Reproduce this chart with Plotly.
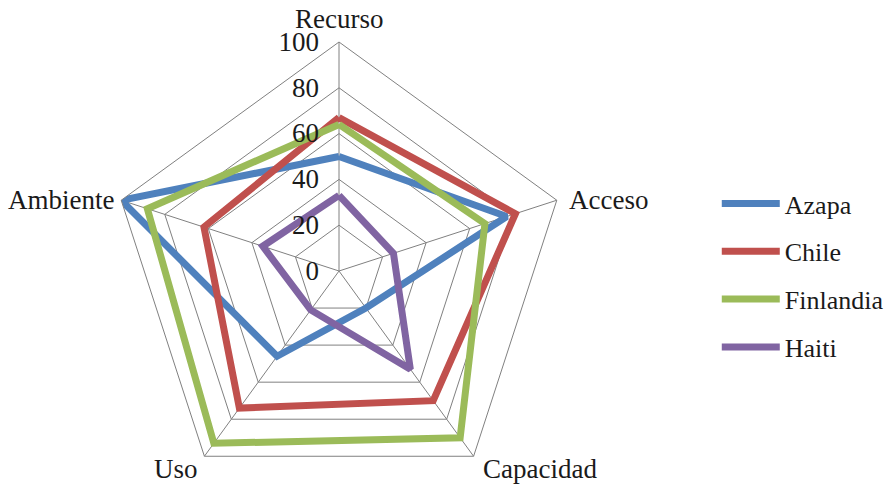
import math
import plotly.graph_objects as go

# Radar categories (clockwise from the top) and scores per region
categories = ["Recurso", "Acceso", "Capacidad", "Uso", "Ambiente"]
series_names = ["Azapa", "Chile", "Finlandia", "Haiti"]
azapa = [50, 77, 20, 46, 100]
chile = [67, 81, 70, 74, 62]
finlandia = [64, 67, 90, 93, 88]
haiti = [33, 25, 53, 21, 35]
radial_ticks = [0, 20, 40, 60, 80, 100]

series_values = [azapa, chile, finlandia, haiti]
colors = ["#4F81BD", "#C0504D", "#9BBB59", "#8064A2"]

W, H = 886, 520
cx, cy, R = 339, 271, 229   # web centre and outer radius in px (cy from top)

FONT = "Liberation Serif"
TXT = "#1a1a1a"
GRID = "#808080"

fig = go.Figure()
for name, vals, col in zip(series_names, series_values, colors):
    fig.add_trace(go.Scatterpolar(
        r=vals + vals[:1],
        theta=categories + categories[:1],
        mode="lines",
        name=name,
        legendgroup=name,
        line=dict(color=col, width=7),
    ))

# Category captions set just outside each outer vertex
label_style = {
    "Recurso":   dict(xanchor="center", yanchor="bottom", dx=0, dy=-6),
    "Acceso":    dict(xanchor="left", yanchor="middle", dx=10, dy=0),
    "Capacidad": dict(xanchor="left", yanchor="middle", dx=7, dy=13),
    "Uso":       dict(xanchor="right", yanchor="middle", dx=-4, dy=13),
    "Ambiente":  dict(xanchor="right", yanchor="middle", dx=-5, dy=0),
}
annotations = []
for i, cat in enumerate(categories):
    ang = math.radians(90 - 72 * i)
    vx = cx + R * math.cos(ang)
    vy = cy - R * math.sin(ang)
    st = label_style[cat]
    annotations.append(dict(
        text=cat, showarrow=False, xref="paper", yref="paper",
        x=(vx + st["dx"]) / W, y=(H - (vy + st["dy"])) / H,
        xanchor=st["xanchor"], yanchor=st["yanchor"],
        font=dict(family=FONT, size=27, color=TXT),
    ))

fig.update_layout(
    width=W, height=H,
    margin=dict(l=0, r=0, t=0, b=0, autoexpand=False),
    paper_bgcolor="white",
    plot_bgcolor="white",
    font=dict(family=FONT, size=27, color=TXT),
    annotations=annotations,
    polar=dict(
        domain=dict(x=[(cx - R) / W, (cx + R) / W],
                    y=[(H - cy - R) / H, (H - cy + R) / H]),
        bgcolor="white",
        gridshape="linear",
        radialaxis=dict(
            range=[0, 100],
            tickvals=radial_ticks,
            angle=90,
            tickangle=90,
            side="counterclockwise",
            showline=False,
            gridcolor=GRID, gridwidth=1,
            ticks="outside", ticklen=10, tickcolor="rgba(0,0,0,0)",
            tickfont=dict(family=FONT, size=27, color=TXT),
        ),
        angularaxis=dict(
            direction="clockwise",
            rotation=90,
            showline=True,
            linecolor=GRID, linewidth=1,
            gridcolor=GRID, gridwidth=1,
            ticks="",
            showticklabels=False,
        ),
    ),
    legend=dict(
        x=0.809, y=0.47, xanchor="left", yanchor="middle",
        tracegroupgap=11,
        itemwidth=58,
        font=dict(family=FONT, size=26, color=TXT),
        bgcolor="rgba(0,0,0,0)",
    ),
)

fig.write_html(
    "out.html",
    post_script="document.documentElement.style.overflow='hidden';"
                "document.body.style.overflow='hidden';"
                "document.body.style.margin='0';",
)
